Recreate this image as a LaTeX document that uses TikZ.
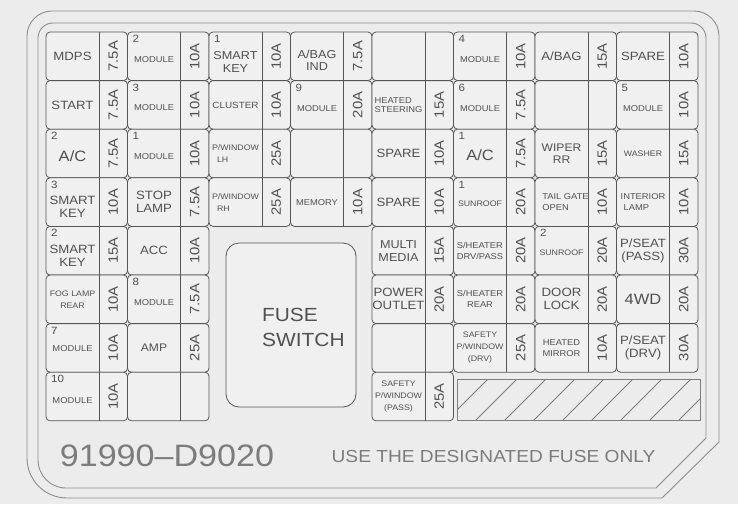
\documentclass[tikz,border=0pt]{standalone}
\usepackage{fontspec}
\setmainfont[FakeStretch=1.1]{Liberation Sans}
\definecolor{bgc}{HTML}{ECECEC}
\definecolor{cellc}{HTML}{F0F0F0}
\definecolor{linec}{HTML}{555555}
\definecolor{framec}{HTML}{8C8C8C}
\definecolor{txtc}{HTML}{505050}
\definecolor{botc}{HTML}{7C7C7C}
\newcommand\fs[2]{\fontsize{#1}{#2}\selectfont}
\newcommand\fcell[5][]{%
  \pgfmathsetmacro\fxl{46+81.5*(#2-1)}%
  \pgfmathsetmacro\fyt{32+48.6*(#3-1)}%
  \draw[cellbox] (\fxl,\fyt) rectangle ++(81.5,48.6);
  \draw[divline] (\fxl+53,\fyt) -- ++(0,48.6);
  \node[nametext,#1] (n#2#3) at (\fxl+26.5,\fyt+24.3) {#4};
  \node[amptext] (a#2#3) at (\fxl+67.25,\fyt+24.3) {#5};
}
\newcommand\fnum[4][]{%
  \pgfmathsetmacro\fxl{46+81.5*(#2-1)}%
  \pgfmathsetmacro\fyt{32+48.6*(#3-1)}%
  \node[numtext,#1] (m#2#3) at (\fxl+5,\fyt+3) {#4};
}
\begin{document}
\begin{tikzpicture}[x=1pt,y=-1pt,
  cellbox/.style={draw=linec, fill=cellc, line width=0.8pt, rounded corners=4pt},
  divline/.style={draw=linec, line width=0.8pt},
  nametext/.style={text=txtc, inner sep=0pt, align=center, font=\fs{12}{13}},
  amptext/.style={text=txtc, inner sep=0pt, rotate=90, font=\fs{13.5}{14}},
  numtext/.style={text=txtc, inner sep=0pt, anchor=north west, font=\fs{10.5}{11}},
  frameline/.style={draw=framec, line width=0.9pt},
  hatchline/.style={draw=framec!90!black, line width=0.8pt},
  small/.style={font=\fs{8.5}{11}},
  tiny/.style={font=\fs{8}{12}},
]
\useasboundingbox (0,0) rectangle (738,504);
\fill[bgc] (0,0) rectangle (738,504);
% outer frame
\draw[frameline] (52,11) -- (694,11) arc[start angle=270,end angle=360,radius=25]
  -- (719,442) -- (662,498) -- (67,498) arc[start angle=90,end angle=180,radius=40]
  -- (27,36) arc[start angle=180,end angle=270,radius=25] -- cycle;
\draw[frameline] (53,23) -- (691,23) arc[start angle=270,end angle=360,radius=15]
  -- (706,438) -- (656,488) -- (66,488) arc[start angle=90,end angle=180,radius=28]
  -- (38,38) arc[start angle=180,end angle=270,radius=15] -- cycle;
% row 1
\fcell{1}{1}{MDPS}{7.5A}
\fcell[small,yshift=-3pt]{2}{1}{MODULE}{10A}\fnum{2}{1}{2}
\fcell[font=\fs{11.5}{13},yshift=-6pt]{3}{1}{SMART\\KEY}{10A}\fnum{3}{1}{1}
\fcell[font=\fs{11.5}{12.5},yshift=-4pt]{4}{1}{A/BAG\\IND}{7.5A}
\fcell{5}{1}{}{}
\fcell[small,yshift=-3pt]{6}{1}{MODULE}{10A}\fnum{6}{1}{4}
\fcell{7}{1}{A/BAG}{15A}
\fcell{8}{1}{SPARE}{10A}
% row 2
\fcell{1}{2}{START}{7.5A}
\fcell[small,yshift=-3pt]{2}{2}{MODULE}{10A}\fnum{2}{2}{3}
\fcell[font=\fs{9}{10}]{3}{2}{CLUSTER}{10A}
\fcell[small,yshift=-4pt]{4}{2}{MODULE}{20A}\fnum{4}{2}{9}
\fcell[small,align=left,font=\fs{8.5}{9.5}]{5}{2}{HEATED\\STEERING}{15A}
\fcell[small,yshift=-4pt]{6}{2}{MODULE}{7.5A}\fnum{6}{2}{6}
\fcell{7}{2}{}{}
\fcell[small,yshift=-4pt]{8}{2}{MODULE}{10A}\fnum{8}{2}{5}
% row 3
\fcell[font=\fs{15}{16},yshift=-3pt]{1}{3}{A/C}{7.5A}\fnum{1}{3}{2}
\fcell[small,yshift=-3pt]{2}{3}{MODULE}{10A}\fnum{2}{3}{1}
\fcell[tiny,align=left]{3}{3}{P/WINDOW\\\hspace*{5pt}LH}{25A}
\fcell{4}{3}{}{}
\fcell{5}{3}{SPARE}{10A}
\fcell[font=\fs{15}{16},yshift=-2pt]{6}{3}{A/C}{7.5A}\fnum{6}{3}{1}
\fcell[font=\fs{11}{12}]{7}{3}{WIPER\\RR}{15A}
\fcell[tiny]{8}{3}{WASHER}{15A}
% row 4
\fcell[yshift=-5pt]{1}{4}{SMART\\KEY}{10A}\fnum{1}{4}{3}
\fcell{2}{4}{STOP\\LAMP}{7.5A}
\fcell[tiny,align=left]{3}{4}{P/WINDOW\\\hspace*{5pt}RH}{25A}
\fcell[small]{4}{4}{MEMORY}{10A}
\fcell{5}{4}{SPARE}{10A}
\fcell[tiny,yshift=-2pt]{6}{4}{SUNROOF}{20A}\fnum{6}{4}{1}
\fcell[small,align=left,xshift=4pt]{7}{4}{TAIL GATE\\OPEN}{10A}
\fcell[small,align=left]{8}{4}{INTERIOR\\\hspace*{3pt}LAMP}{10A}
% row 5
\fcell[yshift=-5pt]{1}{5}{SMART\\KEY}{15A}\fnum{1}{5}{2}
\fcell{2}{5}{ACC}{10A}
\fcell[font=\fs{11.5}{13}]{5}{5}{MULTI\\MEDIA}{15A}
\fcell[small,align=left]{6}{5}{S/HEATER\\DRV/PASS}{20A}
\fcell[tiny,yshift=-2pt]{7}{5}{SUNROOF}{20A}\fnum{7}{5}{2}
\fcell{8}{5}{P/SEAT\\(PASS)}{30A}
% row 6
\fcell[tiny]{1}{6}{FOG LAMP\\REAR}{10A}
\fcell[small,yshift=-3pt]{2}{6}{MODULE}{7.5A}\fnum{2}{6}{8}
\fcell{5}{6}{POWER\\OUTLET}{20A}
\fcell[small]{6}{6}{S/HEATER\\REAR}{20A}
\fcell{7}{6}{DOOR\\LOCK}{20A}
\fcell[font=\fs{15}{16}]{8}{6}{4WD}{20A}
% row 7
\fcell[small,yshift=-1pt]{1}{7}{MODULE}{10A}\fnum{1}{7}{7}
\fcell[font=\fs{11}{12}]{2}{7}{AMP}{25A}
\fcell{5}{7}{}{}
\fcell[tiny]{6}{7}{SAFETY\\P/WINDOW\\(DRV)}{25A}
\fcell[small]{7}{7}{HEATED\\MIRROR}{10A}
\fcell{8}{7}{P/SEAT\\(DRV)}{30A}
% row 8
\fcell[small,yshift=-4pt]{1}{8}{MODULE}{10A}\fnum{1}{8}{10}
\fcell{2}{8}{}{}
\fcell[tiny]{5}{8}{SAFETY\\P/WINDOW\\(PASS)}{25A}
% fuse switch
\node[cellbox, rounded corners=13pt, minimum width=130pt, minimum height=164pt, inner sep=0pt] (fusebox) at (291,325) {};
\node[text=txtc, inner sep=0pt, font=\fs{19}{20}] (fuse) at (290,315) {FUSE};
\node[text=txtc, inner sep=0pt, anchor=west, font=\fs{19}{20}] (switch) at (262,340) {SWITCH};
% hatched area
\begin{scope}
  \clip (457,379) rectangle (700,420);
  \foreach \b in {447,476,...,679} \draw[hatchline] (\b,420) -- (\b+41,379);
\end{scope}
\draw[hatchline] (457,379) rectangle (700,420);
% bottom text
\node[text=botc, inner sep=0pt, font=\fs{31}{33}] (partno) at (167,456) {91990--D9020};
\node[text=botc, inner sep=0pt, font=\fs{17.4}{19}] (warn) at (493.5,456) {USE THE DESIGNATED FUSE ONLY};
\end{tikzpicture}
\end{document}
